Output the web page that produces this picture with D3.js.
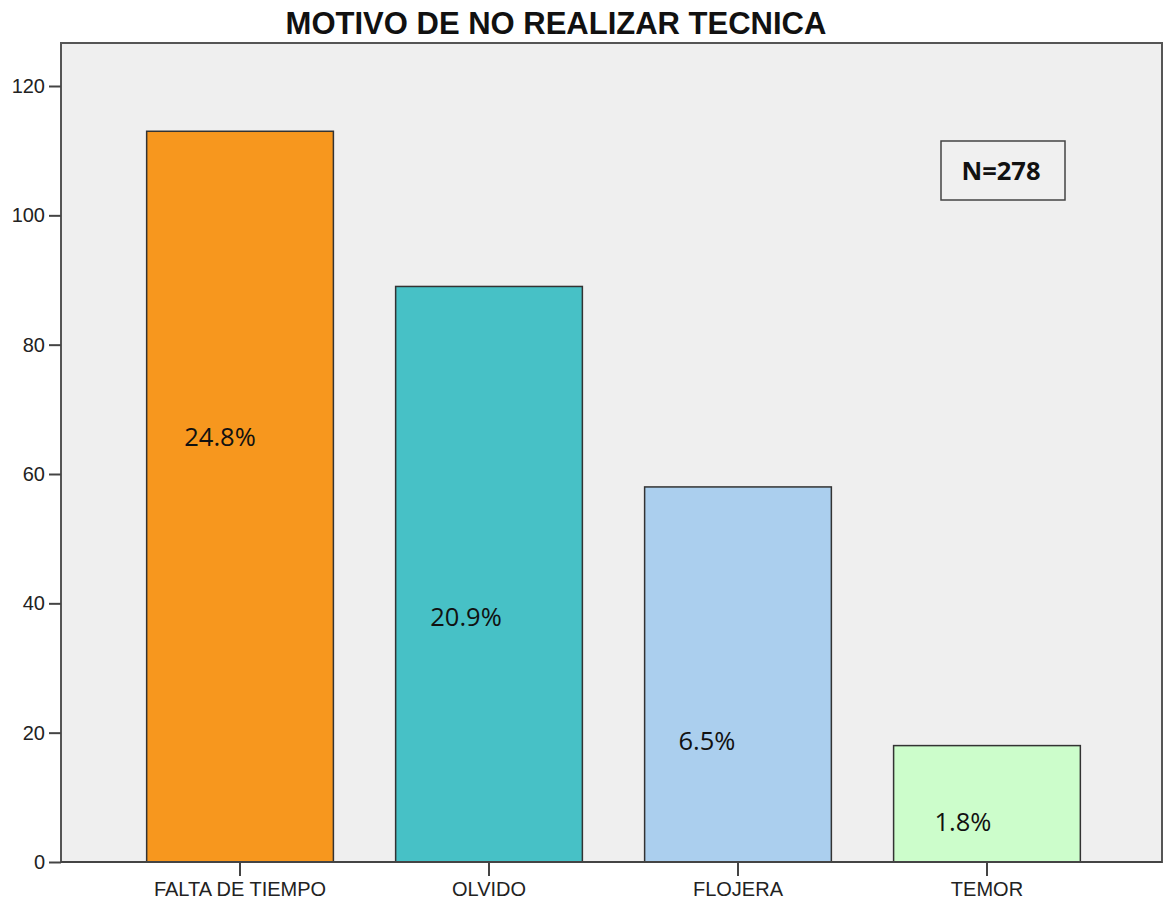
<!DOCTYPE html>
<html>
<head>
<meta charset="utf-8">
<script src="https://d3js.org/d3.v7.min.js"></script>
<style>
    body { margin: 0; background: #fff; }
    .title { font-family: "Liberation Sans", Arial, sans-serif; font-weight: bold; font-size: 31px; fill: #111; }
    .axis text { font-family: "Liberation Sans", Arial, sans-serif; font-size: 20px; fill: #222; }
    .axis path, .axis line { stroke: #444; stroke-width: 2; }
    .pct { font-family: "Open Sans", "Noto Sans", sans-serif; font-size: 25.5px; fill: #111; }
    .nlabel { font-family: "Open Sans", "Noto Sans", sans-serif; font-weight: bold; font-size: 25.5px; fill: #111; }
</style>
</head>
<body>
<svg id="chart" width="1170" height="902"></svg>
<script>
    // data
    let categories = ["FALTA DE TIEMPO", "OLVIDO", "FLOJERA", "TEMOR"];
    let counts = [113, 89, 58, 18];
    let percents = ["24.8%", "20.9%", "6.5%", "1.8%"];
    let yTicks = [0, 20, 40, 60, 80, 100, 120];
    let titleText = "MOTIVO DE NO REALIZAR TECNICA";
    let sampleText = "N=278";

    // where the percent labels sit (in axis units) and their shift from bar centre
    let labelAt = [65.7, 37.9, 18.7, 6.2];
    let labelShift = [-20, -23, -31, -24];

    let colors = ["#f7971e", "#47c1c6", "#abcfee", "#ccfdcb"];

    let margin = {top: 43, right: 8, bottom: 40, left: 61};
    let W = 1170, H = 902;

    let svg = d3.select("#chart");

    let x = d3.scaleBand()
        .domain(categories)
        .range([margin.left + 2, W - margin.right + 2])
        .paddingInner(0.25)
        .paddingOuter(0.336);

    let y = d3.scaleLinear()
        .domain([0, 120])
        .range([H - margin.bottom, 86]);

    // plot background + frame
    svg.append("rect")
        .attr("x", margin.left)
        .attr("y", margin.top)
        .attr("width", W - margin.right - margin.left)
        .attr("height", y(0) - margin.top)
        .style("fill", "#efefef")
        .style("stroke", "#555")
        .style("stroke-width", 2);

    svg.append("text")
        .attr("class", "title")
        .attr("x", 556)
        .attr("y", 34)
        .attr("text-anchor", "middle")
        .text(titleText);

    // bars
    svg.selectAll(".bar")
        .data(categories)
        .enter().append("rect")
        .attr("class", "bar")
        .attr("x", d => x(d))
        .attr("width", x.bandwidth())
        .attr("y", (d, i) => y(counts[i]))
        .attr("height", (d, i) => y(0) - y(counts[i]))
        .style("fill", (d, i) => colors[i])
        .style("stroke", "#333")
        .style("stroke-width", 1.5);

    // percent labels
    svg.selectAll(".pct")
        .data(categories)
        .enter().append("text")
        .attr("class", "pct")
        .attr("x", (d, i) => x(d) + x.bandwidth() / 2 + labelShift[i])
        .attr("y", (d, i) => y(labelAt[i]))
        .attr("dy", "0.35em")
        .attr("text-anchor", "middle")
        .text((d, i) => percents[i]);

    // axes
    let yAxis = d3.axisLeft(y)
        .tickValues(yTicks)
        .tickSize(12)
        .tickPadding(4)
        .tickSizeOuter(0);

    let gy = svg.append("g")
        .attr("class", "axis")
        .attr("transform", "translate(" + margin.left + ",0)")
        .call(yAxis);
    gy.select(".domain").remove();

    let xAxis = d3.axisBottom(x)
        .tickSize(14)
        .tickPadding(6)
        .tickSizeOuter(0);

    svg.append("g")
        .attr("class", "axis")
        .attr("transform", "translate(0," + y(0) + ")")
        .call(xAxis)
        .select(".domain")
        .attr("d", "M" + margin.left + ",0H" + (W - margin.right));

    // N box
    let nbox = svg.append("g").attr("transform", "translate(941,141)");
    nbox.append("rect")
        .attr("width", 124)
        .attr("height", 59)
        .style("fill", "#f0f0f0")
        .style("stroke", "#444")
        .style("stroke-width", 1.5);
    nbox.append("text")
        .attr("class", "nlabel")
        .attr("x", 60)
        .attr("y", 30)
        .attr("dy", "0.35em")
        .attr("text-anchor", "middle")
        .text(sampleText);
</script>
</body>
</html>
